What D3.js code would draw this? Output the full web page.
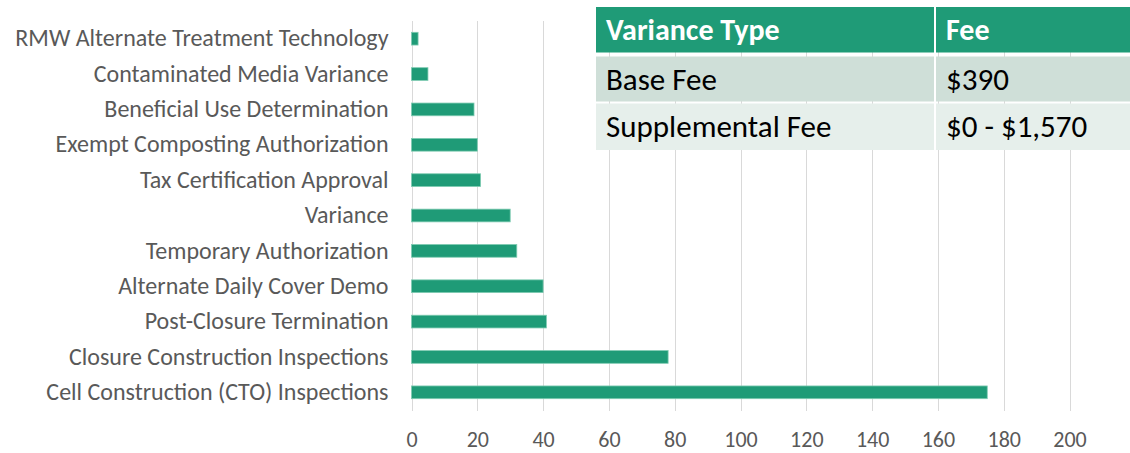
<!DOCTYPE html>
<html>
<head>
<meta charset="utf-8">
<script src="https://cdn.jsdelivr.net/npm/d3@7/dist/d3.min.js"></script>
<style>
  body { margin: 0; background: #fff; }
  svg { display: block; font-family: Carlito, Calibri, "Open Sans", sans-serif; }
</style>
</head>
<body>
<div id="chart"></div>
<script>
// categories, top to bottom
var categories = [
    'RMW Alternate Treatment Technology',
    'Contaminated Media Variance',
    'Beneficial Use Determination',
    'Exempt Composting Authorization',
    'Tax Certification Approval',
    'Variance',
    'Temporary Authorization',
    'Alternate Daily Cover Demo',
    'Post-Closure Termination',
    'Closure Construction Inspections',
    'Cell Construction (CTO) Inspections'
];
var counts = [2, 5, 19, 20, 21, 30, 32, 40, 41, 78, 175];
var xTicks = [0, 20, 40, 60, 80, 100, 120, 140, 160, 180, 200];

// fee table
var tableHeader = ['Variance Type', 'Fee'];
var tableRows = [
    ['Base Fee', '$390'],
    ['Supplemental Fee', '$0 - $1,570']
];

var width = 1130;
var height = 453;
var fontFam = 'Carlito, Calibri, "Open Sans", sans-serif';

var margin = {
    top: 21,
    right: 60,
    bottom: 43,
    left: 411.5
};

var svg = d3.select('#chart')
    .append('svg')
    .attr('width', width)
    .attr('height', height);

var xScale = d3.scaleLinear()
    .domain([0, 200])
    .range([margin.left, margin.left + 658]);

var yScale = d3.scaleBand()
    .domain(categories)
    .range([margin.top, height - margin.bottom])
    .paddingInner(0.64)
    .paddingOuter(0.32);

// vertical gridlines
svg.append('g')
    .selectAll('line')
    .data(xTicks)
    .enter()
    .append('line')
    .attr('x1', function(d) { return Math.round(xScale(d)) + 0.5; })
    .attr('x2', function(d) { return Math.round(xScale(d)) + 0.5; })
    .attr('y1', margin.top)
    .attr('y2', height - margin.bottom + 1)
    .attr('stroke', '#d9d9d9')
    .attr('stroke-width', 1);

// x axis labels
var xAxis = d3.axisBottom(xScale)
    .tickValues(xTicks)
    .tickSize(0)
    .tickPadding(0);

var xg = svg.append('g')
    .attr('transform', 'translate(0,' + 447 + ')')
    .call(xAxis);
xg.select('.domain').remove();
xg.selectAll('text')
    .attr('dy', 0)
    .attr('font-family', fontFam)
    .attr('font-size', 22)
    .attr('fill', '#595959');

// category labels
var yAxis = d3.axisLeft(yScale)
    .tickSize(0)
    .tickPadding(23);

var yg = svg.append('g')
    .attr('transform', 'translate(' + margin.left + ',0)')
    .call(yAxis);
yg.select('.domain').remove();
yg.selectAll('text')
    .attr('font-family', fontFam)
    .attr('font-size', 24)
    .attr('fill', '#595959');

// bars
svg.append('g')
    .selectAll('rect')
    .data(counts)
    .enter()
    .append('rect')
    .attr('x', xScale(0))
    .attr('y', function(d, i) { return yScale(categories[i]); })
    .attr('width', function(d) { return xScale(d) - xScale(0); })
    .attr('height', yScale.bandwidth())
    .attr('fill', '#1f9b77')
    .attr('stroke', '#7fcbb2')
    .attr('stroke-width', 0.8);

// fee table overlay
var tableX = 596;
var colW = [340, 194];
var rowY = [7, 56.5, 103.5];
var rowH = [45.5, 45, 46.5];
var rowFill = ['#1f9b77', '#cfdfd8', '#e6efeb'];

var table = svg.append('g');
var allRows = [tableHeader].concat(tableRows);

allRows.forEach(function(row, r) {
    var cx = tableX;
    row.forEach(function(cell, c) {
        table.append('rect')
            .attr('x', cx)
            .attr('y', rowY[r])
            .attr('width', colW[c] - (c === 0 ? 2 : 0))
            .attr('height', rowH[r])
            .attr('fill', rowFill[r]);
        table.append('text')
            .attr('x', cx + 10)
            .attr('y', rowY[r] + rowH[r] / 2)
            .attr('dy', '0.34em')
            .attr('font-family', fontFam)
            .attr('font-size', r === 0 ? 30 : 31)
            .attr('font-weight', r === 0 ? 'bold' : 'normal')
            .attr('fill', r === 0 ? '#ffffff' : '#000000')
            .text(cell);
        cx += colW[c];
    });
});
</script>
</body>
</html>
